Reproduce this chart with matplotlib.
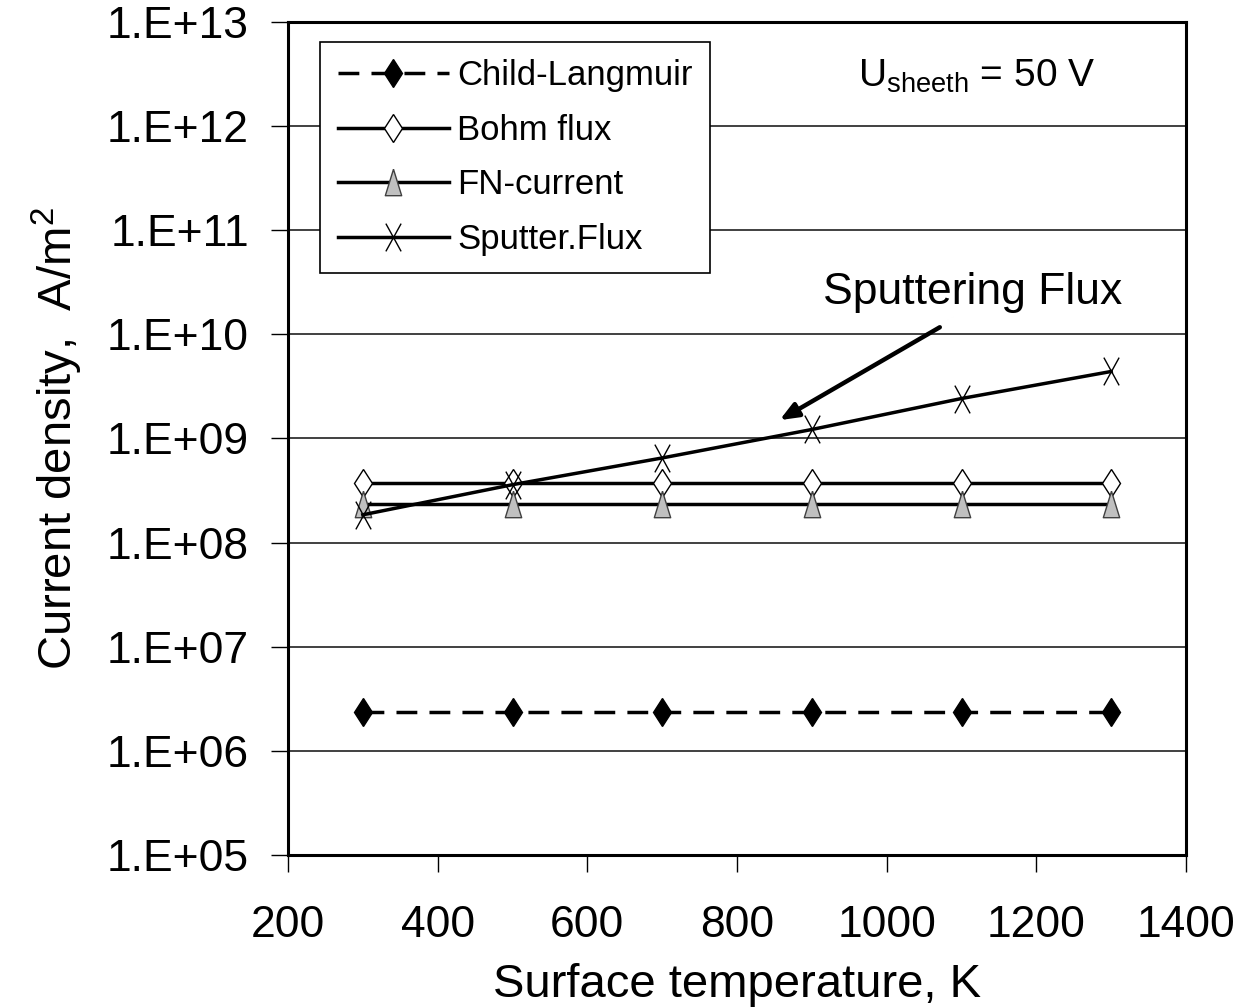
import numpy as np
import matplotlib.pyplot as plt
from matplotlib.path import Path

plt.rcParams['font.family'] = ['Liberation Sans', 'DejaVu Sans']
plt.rcParams['mathtext.fontset'] = 'custom'
plt.rcParams['mathtext.rm'] = 'Liberation Sans'

# data
temps = [300, 500, 700, 900, 1100, 1300]
child_langmuir = [2.37e6] * 6
bohm_flux = [3.7e8] * 6
fn_current = [2.35e8] * 6
sputter_flux = [1.85e8, 3.6e8, 6.5e8, 1.22e9, 2.42e9, 4.4e9]
ytick_vals = [1e5, 1e6, 1e7, 1e8, 1e9, 1e10, 1e11, 1e12, 1e13]
ytick_labels = ['1.E+05', '1.E+06', '1.E+07', '1.E+08', '1.E+09',
                '1.E+10', '1.E+11', '1.E+12', '1.E+13']

tri = Path([(0, 1), (-0.62, -1), (0.62, -1), (0, 1)])
cross = Path([(-0.55, -1), (0.55, 1), (-0.55, 1), (0.55, -1)],
             [Path.MOVETO, Path.LINETO, Path.MOVETO, Path.LINETO])

fig = plt.figure(figsize=(12.5, 10.08), dpi=100)
ax = fig.add_axes([0.2304, 0.1518, 0.7184, 0.8264])

ax.plot(temps, child_langmuir, color='black', lw=2.5, ls=(0, (6, 3.5)),
        marker='d', ms=14.5, mfc='black', mec='black', label='Child-Langmuir')
ax.plot(temps, bohm_flux, color='black', lw=2.5,
        marker='d', ms=14.5, mfc='white', mec='black', mew=1, label='Bohm flux')
ax.plot(temps, fn_current, color='black', lw=2.5,
        marker=tri, ms=19, mfc='#c0c0c0', mec='#404040', mew=1, label='FN-current')
ax.plot(temps, sputter_flux, color='black', lw=2.5,
        marker=cross, ms=20, mfc='none', mec='black', mew=1, label='Sputter.Flux')

ax.set_yscale('log')
ax.set_xlim(200, 1400)
ax.set_ylim(1e5, 1e13)
ax.set_yticks(ytick_vals)
ax.set_yticklabels(ytick_labels)
ax.minorticks_off()
ax.set_xticks(range(200, 1401, 200))
ax.tick_params(labelsize=32, length=12, width=1, direction='out')
ax.tick_params(axis='y', pad=16)
ax.tick_params(axis='x', pad=24)
ax.yaxis.grid(True, color='#202020', lw=1.2)
ax.set_axisbelow(True)
for s in ax.spines.values():
    s.set_linewidth(2.2)

ax.set_xlabel('Surface temperature, K', fontsize=34, labelpad=12)
ax.set_ylabel('Current density,  A/m$^2$', fontsize=34, labelpad=16)

leg = ax.legend(loc='upper left', bbox_to_anchor=(0.036, 0.976), fontsize=25,
                fancybox=False, framealpha=1, edgecolor='black',
                handlelength=3.2, borderpad=0.5, labelspacing=0.62,
                handletextpad=0.25, borderaxespad=0)
leg.get_frame().set_linewidth(1.2)

ax.text(0.767, 0.935, r'U$_{\mathrm{sheeth}}$ = 50 V', transform=ax.transAxes,
        fontsize=28, ha='center', va='center')
ax.text(0.762, 0.675, 'Sputtering Flux', transform=ax.transAxes,
        fontsize=32, ha='center', va='center')
ax.annotate('', xy=(857, 1.5e9), xytext=(1071, 1.17e10),
            arrowprops=dict(arrowstyle='-|>,head_length=1.1,head_width=0.45',
                            color='black', lw=3.2, shrinkA=0, shrinkB=0))

fig.savefig('out.png', dpi=100)
